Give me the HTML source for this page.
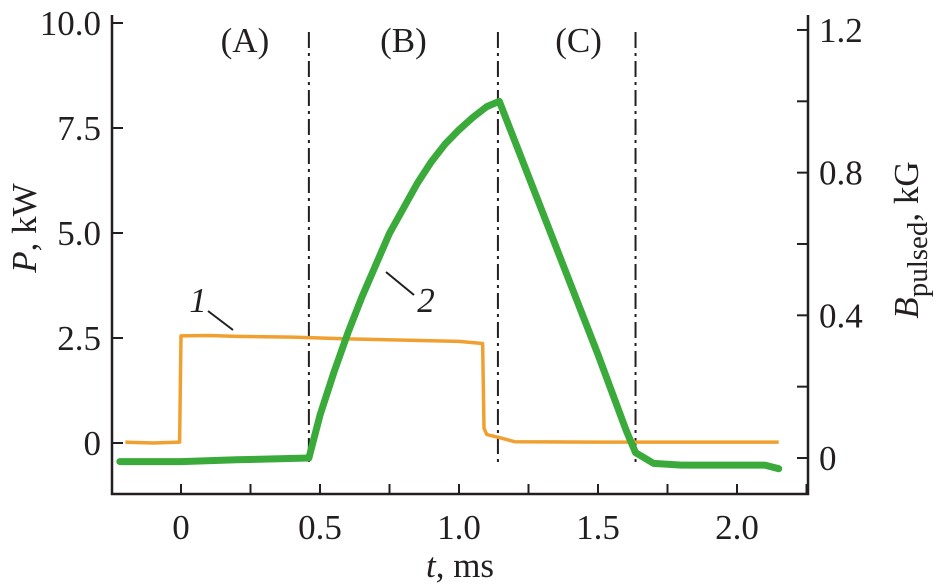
<!DOCTYPE html>
<html><head><meta charset="utf-8"><style>
html,body{margin:0;padding:0;background:#fff;}
svg{display:block;font-family:"Liberation Serif",serif;}
</style></head><body>
<svg id="chart" width="943" height="587" viewBox="0 0 943 587" xmlns="http://www.w3.org/2000/svg"></svg>
<script>
const tTicks=[0,0.5,1.0,1.5,2.0];
const tTickLabels=["0","0.5","1.0","1.5","2.0"];
const pTicks=[0,2.5,5.0,7.5,10.0];
const pTickLabels=["0","2.5","5.0","7.5","10.0"];
const bTicks=[0,0.4,0.8,1.2];
const bTickLabels=["0","0.4","0.8","1.2"];
const bMinor=[0.2,0.6,1.0];
const phaseBounds=[0.46,1.14,1.635];
const phaseLabels=["(A)","(B)","(C)"];
const phaseLabelT=[0.23,0.8,1.43];
const powerT=[-0.2,-0.1,-0.005,0.0,0.1,0.2,0.4,0.6,0.8,1.0,1.085,1.09,1.1,1.15,1.2,1.5,1.8,2.15];
const powerP=[0.02,0.0,0.02,2.55,2.56,2.54,2.52,2.48,2.45,2.42,2.37,0.35,0.2,0.12,0.03,0.02,0.02,0.02];
const fieldT=[-0.22,0.0,0.2,0.46,0.5,0.55,0.6,0.65,0.7,0.75,0.8,0.85,0.9,0.95,1.0,1.05,1.1,1.145,1.2,1.3,1.4,1.5,1.6,1.635,1.7,1.8,2.0,2.1,2.15];
const fieldB=[-0.01,-0.01,-0.005,0.0,0.12,0.24,0.35,0.45,0.54,0.63,0.7,0.77,0.83,0.88,0.92,0.955,0.985,1.0,0.89,0.69,0.49,0.29,0.08,0.015,-0.015,-0.02,-0.02,-0.02,-0.03];

const NS="http://www.w3.org/2000/svg";
const svg=document.getElementById('chart');
const X0=112,X1=808,Y0=15,Y1=494;
const xS=t=>181+(t-0)*278;
const pS=p=>443-p*42;
const bS=b=>458-b*356.7;
function mk(tag,attrs,parent){const e=document.createElementNS(NS,tag);for(const k in attrs)e.setAttribute(k,attrs[k]);(parent||svg).appendChild(e);return e;}
function txt(x,y,s,size,anchor,parent,style){const e=mk('text',{x:x,y:y,'font-size':size,'text-anchor':anchor||'middle',fill:'#231f20'},parent);if(style)e.setAttribute('style',style);e.textContent=s;return e;}

const ax=mk('g',{});


mk('polyline',{points:`${X0},${Y0} ${X0},${Y1} ${X1},${Y1} ${X1},${Y0}`,fill:'none',stroke:'#231f20','stroke-width':2.5},ax);

const xg=mk('g',{});


for(let t=0;t<=2.26;t+=0.25){mk('line',{x1:xS(t),x2:xS(t),y1:Y1,y2:Y1-10,stroke:'#231f20','stroke-width':2},xg);}
tTicks.forEach((t,i)=>{const e=txt(xS(t),539,tTickLabels[i],35,'middle',xg);});
const xt=mk('text',{x:460,y:577,'font-size':35,'text-anchor':'middle',fill:'#231f20'});


xt.innerHTML='<tspan font-style="italic">t</tspan>, ms';

const lg=mk('g',{});


pTicks.forEach((p,i)=>{mk('line',{x1:X0,x2:X0+11,y1:pS(p),y2:pS(p),stroke:'#231f20','stroke-width':2},lg);const e=txt(101,pS(p)+12,pTickLabels[i],35,'end',lg);});
const lt=mk('text',{x:0,y:0,'font-size':35,'text-anchor':'middle',fill:'#231f20',transform:'translate(36,228) rotate(-90)'});


lt.innerHTML='<tspan font-style="italic">P</tspan>, kW';

const rg=mk('g',{});


bTicks.forEach((b,i)=>{mk('line',{x1:X1,x2:X1-11,y1:bS(b),y2:bS(b),stroke:'#231f20','stroke-width':2},rg);const e=txt(819,bS(b)+12,bTickLabels[i],35,'start',rg);});
bMinor.forEach(b=>{mk('line',{x1:X1,x2:X1-11,y1:bS(b),y2:bS(b),stroke:'#231f20','stroke-width':2},rg);});
const rt=mk('text',{x:0,y:0,'font-size':35,'text-anchor':'middle',fill:'#231f20',transform:'translate(918,240) rotate(-90)'});


rt.innerHTML='<tspan font-style="italic">B</tspan><tspan dy="9" font-size="29">pulsed</tspan><tspan dy="-9">, kG</tspan>';

phaseBounds.forEach(t=>{const l=mk('line',{x1:xS(t),x2:xS(t),y1:32,y2:462,stroke:'#231f20','stroke-width':2,'stroke-dasharray':'16 5 3 5'});});
phaseLabels.forEach((s,i)=>{const e=txt(xS(phaseLabelT[i]),52,s,35,'middle');});

const pp=mk('polyline',{points:powerT.map((t,i)=>`${xS(t)},${pS(powerP[i])}`).join(' '),fill:'none',stroke:'#f0a030','stroke-width':3.5,'stroke-linejoin':'round'});


const bp=mk('polyline',{points:fieldT.map((t,i)=>`${xS(t)},${bS(fieldB[i])}`).join(' '),fill:'none',stroke:'#3aaa3a','stroke-width':7,'stroke-linejoin':'round','stroke-linecap':'round'});



const c1=txt(198,312,'1',35,'middle',null,'font-style:italic');


mk('line',{x1:208,y1:311,x2:233,y2:330,stroke:'#231f20','stroke-width':2});
const c2=txt(426,312,'2',35,'middle',null,'font-style:italic');


mk('line',{x1:386,y1:272,x2:414,y2:295,stroke:'#231f20','stroke-width':2});
</script>
</body></html>
